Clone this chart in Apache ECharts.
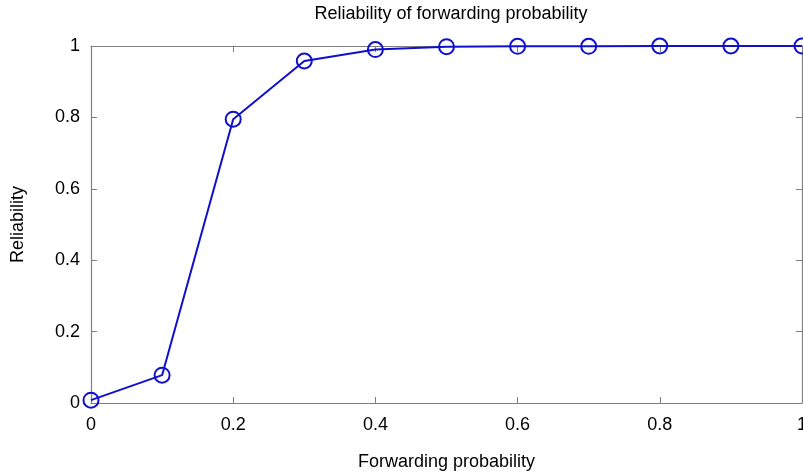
<!DOCTYPE html>
<html>
<head>
<meta charset="utf-8">
<script src="https://cdn.jsdelivr.net/npm/echarts@6/dist/echarts.min.js"></script>
<style>
  html, body { margin: 0; padding: 0; background: #fff; }
  #chart { width: 803px; height: 474px; }
</style>
</head>
<body>
<div id="chart"></div>
<script>
var probability = [0, 0.1, 0.2, 0.3, 0.4, 0.5, 0.6, 0.7, 0.8, 0.9, 1.0];
var reliability = [0.008, 0.078, 0.795, 0.958, 0.99, 0.998, 0.999, 0.999, 1.0, 1.0, 1.0];

var chartDom = document.getElementById('chart');
var myChart = echarts.init(chartDom, null, {renderer: 'canvas'});

var font = 'Liberation Sans';
var axisGray = '#808080';
var blue = '#1010cc';

var points = probability.map(function (p, i) {
  return [p, reliability[i]];
});

// mirrored box axes (top / right), ticks only
function boxAxis(pos) {
  return {
    type: 'value',
    position: pos,
    min: 0, max: 1, interval: 0.2,
    axisLine: { show: true, onZero: false, lineStyle: { color: axisGray, width: 1.2 } },
    axisTick: { show: true, inside: true, length: 6, lineStyle: { color: axisGray } },
    axisLabel: { show: false },
    splitLine: { show: false }
  };
}

var option = {
  animation: false,
  title: {
    text: 'Reliability of forwarding probability',
    left: 446,
    textAlign: 'center',
    top: 0,
    textStyle: { fontFamily: font, fontSize: 18, fontWeight: 'normal', color: '#000' }
  },
  grid: { left: 91, right: 1, top: 46, bottom: 71, outerBoundsMode: 'none' },
  xAxis: [{
    type: 'value',
    min: 0, max: 1, interval: 0.2,
    name: 'Forwarding probability',
    nameLocation: 'middle',
    nameGap: 50,
    nameTextStyle: { fontFamily: font, fontSize: 18, color: '#000' },
    axisLine: { onZero: false, lineStyle: { color: axisGray, width: 1.2 } },
    axisTick: { inside: true, length: 6, lineStyle: { color: axisGray } },
    axisLabel: { fontFamily: font, fontSize: 18, color: '#000', margin: 13 },
    splitLine: { show: false }
  }, boxAxis('top')],
  yAxis: [{
    type: 'value',
    min: 0, max: 1, interval: 0.2,
    name: 'Reliability',
    nameLocation: 'middle',
    nameGap: 64,
    nameRotate: 90,
    nameTextStyle: { fontFamily: font, fontSize: 18, color: '#000' },
    axisLine: { show: true, onZero: false, lineStyle: { color: axisGray, width: 1.2 } },
    axisTick: { show: true, inside: true, length: 6, lineStyle: { color: axisGray } },
    axisLabel: { fontFamily: font, fontSize: 18, color: '#000', margin: 11 },
    splitLine: { show: false }
  }, boxAxis('right')],
  series: [{
    type: 'line',
    data: points,
    xAxisIndex: 0,
    yAxisIndex: 0,
    symbol: 'circle',
    symbolSize: 15,
    color: blue,
    lineStyle: { color: blue, width: 2 },
    itemStyle: { color: 'rgba(0,0,0,0)', borderColor: blue, borderWidth: 2 },
    z: 3
  }, {
    type: 'line',
    data: [],
    xAxisIndex: 1,
    yAxisIndex: 1
  }]
};

myChart.setOption(option);
</script>
</body>
</html>
